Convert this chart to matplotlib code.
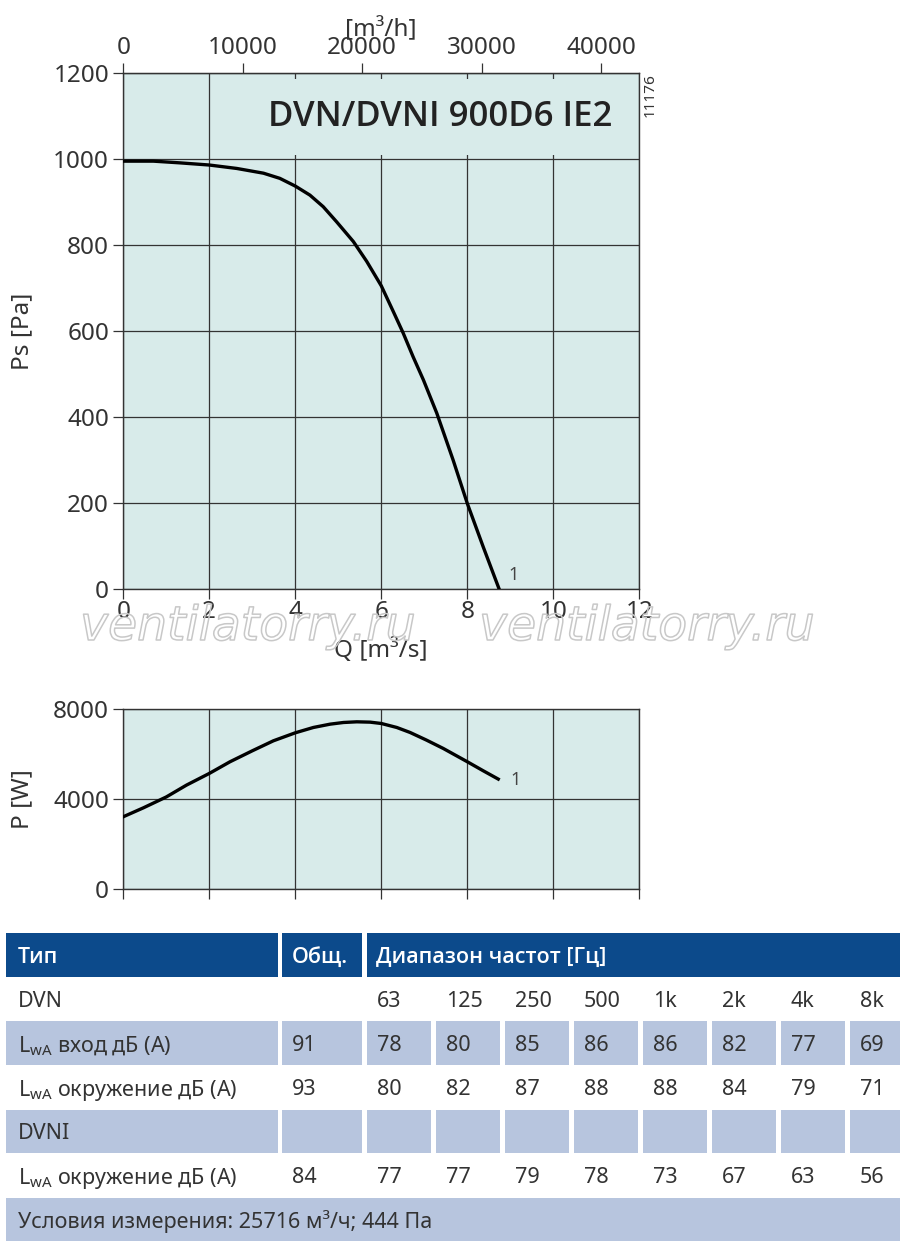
import matplotlib
matplotlib.use("Agg")
import matplotlib.pyplot as plt
import matplotlib.patheffects as pe
from matplotlib import font_manager
from matplotlib.patches import Rectangle

plt.rcParams['font.family'] = ['Noto Sans', 'DejaVu Sans']

# --- data ---
q_ps = [0, 0.70, 1.32, 2.0, 2.64, 3.26, 3.64, 4.0, 4.34, 4.65, 4.96, 5.35, 5.66, 6.0,
        6.28, 6.51, 6.74, 6.98, 7.29, 7.67, 8.0, 8.37, 8.74]
ps = [995, 995, 991, 986, 978, 967, 955, 937, 916, 889, 854, 808, 762, 705,
      645, 595, 540, 486, 409, 300, 199, 98, 0]

q_p = [0, 0.47, 1.0, 1.47, 2.0, 2.48, 3.0, 3.49, 4.0, 4.42, 4.81, 5.12, 5.43, 5.74,
       6.0, 6.36, 6.67, 7.05, 7.44, 8.0, 8.37, 8.72]
power = [3203, 3600, 4080, 4605, 5122, 5638, 6125, 6568, 6923, 7159, 7306, 7380, 7410, 7395,
         7336, 7159, 6937, 6600, 6230, 5640, 5240, 4871]

ps_ticks = [0, 200, 400, 600, 800, 1000, 1200]
q_ticks = [0, 2, 4, 6, 8, 10, 12]
qh_ticks = [0, 10000, 20000, 30000, 40000]
p_ticks = [0, 4000, 8000]

freq_bands = ['63', '125', '250', '500', '1k', '2k', '4k', '8k']
dvn_inlet_total = '91'
dvn_inlet = ['78', '80', '85', '86', '86', '82', '77', '69']
dvn_surr_total = '93'
dvn_surr = ['80', '82', '87', '88', '88', '84', '79', '71']
dvni_surr_total = '84'
dvni_surr = ['77', '77', '79', '78', '73', '67', '63', '56']

# --- style ---
W, H, DPI = 900, 1247, 100
BG = '#d8ebea'
LINE = '#333333'
TXT = '#333333'
HEAD = '#0c4a8b'
ROWFILL = '#b7c5de'
TICK_FS = 17.5


def weight_num(w):
    if isinstance(w, int):
        return w
    return {'semibold': 600, 'demibold': 600, 'bold': 700, 'heavy': 800,
            'black': 900}.get(str(w).lower(), 400)


def pick_heavy_family():
    # the first installed sans family that has a real semibold/bold face
    for name in ['Noto Sans', 'Open Sans', 'Lato', 'Roboto', 'Inter', 'Liberation Sans']:
        for f in font_manager.fontManager.ttflist:
            if f.name == name and f.style == 'normal' and 600 <= weight_num(f.weight) <= 700:
                return name
    return 'DejaVu Sans'


HEAVY = pick_heavy_family()


def px_axes(fig, left, top, right, bottom):
    return fig.add_axes([left / W, 1 - bottom / H, (right - left) / W, (bottom - top) / H])


def style_axes(ax):
    ax.set_facecolor(BG)
    for s in ax.spines.values():
        s.set_color(LINE)
        s.set_linewidth(1.0)
    ax.grid(True, color=LINE, linewidth=0.9)
    ax.set_axisbelow(True)
    ax.tick_params(axis='both', direction='out', length=7.2, width=0.9, color=LINE,
                   labelsize=TICK_FS, labelcolor=TXT)
    ax.tick_params(axis='x', pad=1)
    ax.tick_params(axis='y', pad=3)
    for lab in ax.get_xticklabels() + ax.get_yticklabels():
        lab.set_fontweight('light')


fig = plt.figure(figsize=(W / DPI, H / DPI), dpi=DPI)

# --- pressure chart ---
ax = px_axes(fig, 123.3, 73, 639.3, 589)
ax.set_xlim(0, 12)
ax.set_ylim(0, 1200)
ax.set_xticks(q_ticks)
ax.set_yticks(ps_ticks)
style_axes(ax)
ax.plot(q_ps, ps, color='black', linewidth=2.4, solid_joinstyle='round', zorder=3)
ax.text(8.95, 33, '1', fontsize=13, color='#444444', va='center', ha='left')
ax.text(11.37, 1098, 'DVN/DVNI 900D6 IE2', fontsize=25, fontweight='semibold',
        family=[HEAVY, 'DejaVu Sans'], color='#222222', ha='right', va='center', zorder=2,
        bbox=dict(boxstyle='square,pad=0.6', facecolor=BG, edgecolor='none'))
ax.set_xlabel('Q [m³/s]', fontsize=TICK_FS, color=TXT, fontweight='light')
ax.xaxis.set_label_coords(0.5, -0.095)
ax.set_ylabel('Ps [Pa]', fontsize=TICK_FS, color=TXT, fontweight='light')
ax.yaxis.set_label_coords(-0.173, 0.5)

sec = ax.secondary_xaxis('top', functions=(lambda q: q * 3600, lambda v: v / 3600))
sec.set_xticks(qh_ticks)
sec.tick_params(direction='out', length=7.2, width=0.9, color=LINE, labelsize=TICK_FS,
                labelcolor=TXT, pad=2)
sec.spines['top'].set_color(LINE)
for lab in sec.get_xticklabels():
    lab.set_fontweight('light')
sec.set_xlabel('[m³/h]', fontsize=TICK_FS, color=TXT, fontweight='light', labelpad=0)

fig.text(650 / W, 1 - 95 / H, '11176', rotation=90, fontsize=11, color=TXT,
         ha='center', va='center')

# --- power chart ---
ax2 = px_axes(fig, 123.3, 708.5, 639.3, 889)
ax2.set_xlim(0, 12)
ax2.set_ylim(0, 8000)
ax2.set_xticks(q_ticks)
ax2.set_yticks(p_ticks)
style_axes(ax2)
ax2.tick_params(axis='x', labelbottom=False)
ax2.plot(q_p, power, color='black', linewidth=2.4, solid_joinstyle='round', zorder=3)
ax2.text(9.0, 4850, '1', fontsize=13, color='#444444', va='center', ha='left')
ax2.set_ylabel('P [W]', fontsize=TICK_FS, color=TXT, fontweight='light')
ax2.yaxis.set_label_coords(-0.173, 0.5)

# --- watermark (outline only) ---
for cx in (248, 647):
    fig.text(cx / W, 1 - 640 / H, 'ventilatorry.ru', fontsize=34, style='italic',
             family='DejaVu Sans', color=(1, 1, 1, 0), ha='center', va='baseline',
             zorder=10,
             path_effects=[pe.withStroke(linewidth=1.1, foreground='#c8c8c8'),
                           pe.Normal()])

# --- table ---
tax = fig.add_axes([0, 0, 1, 1])
tax.set_xlim(0, W)
tax.set_ylim(H, 0)
tax.axis('off')

row_top0, row_pitch, row_h = 933.3, 44.07, 43.4
type_col = (6, 277.7)
total_col = (282, 362.3)
freq_left0, freq_pitch, freq_w = 366.7, 69.0, 64.7
TFS = 15.5


def row_y(i):
    return row_top0 + i * row_pitch


def cell(x0, x1, i, color):
    tax.add_patch(Rectangle((x0, row_y(i)), x1 - x0, row_h, facecolor=color,
                            edgecolor='none'))


def label(x, i, s, color=TXT, heavy=False):
    kw = dict(fontweight='semibold', family=[HEAVY, 'DejaVu Sans']) if heavy else {}
    tax.text(x, row_y(i) + row_h / 2, s, fontsize=TFS, color=color, ha='left',
             va='center_baseline', **kw)


# header
cell(*type_col, 0, HEAD)
cell(*total_col, 0, HEAD)
cell(freq_left0, W, 0, HEAD)
label(18, 0, 'Тип', 'white', True)
label(292, 0, 'Общ.', 'white', True)
label(376, 0, 'Диапазон частот [Гц]', 'white', True)

rows = [
    ('DVN', '', freq_bands, False),
    ('L$_\\mathregular{wA}$ вход дБ (А)', dvn_inlet_total, dvn_inlet, True),
    ('L$_\\mathregular{wA}$ окружение дБ (А)', dvn_surr_total, dvn_surr, False),
    ('DVNI', '', [''] * len(freq_bands), True),
    ('L$_\\mathregular{wA}$ окружение дБ (А)', dvni_surr_total, dvni_surr, False),
]
for i, (name, total, vals, filled) in enumerate(rows, start=1):
    if filled:
        cell(*type_col, i, ROWFILL)
        cell(*total_col, i, ROWFILL)
        for j in range(len(vals)):
            x0 = freq_left0 + j * freq_pitch
            cell(x0, min(x0 + freq_w, W), i, ROWFILL)
    label(18, i, name)
    label(292, i, total)
    for j, v in enumerate(vals):
        label(freq_left0 + j * freq_pitch + 10, i, v)

cell(6, W, 6, ROWFILL)
label(18, 6, 'Условия измерения: 25716 м³/ч; 444 Па')

fig.savefig('out.png', dpi=DPI)
